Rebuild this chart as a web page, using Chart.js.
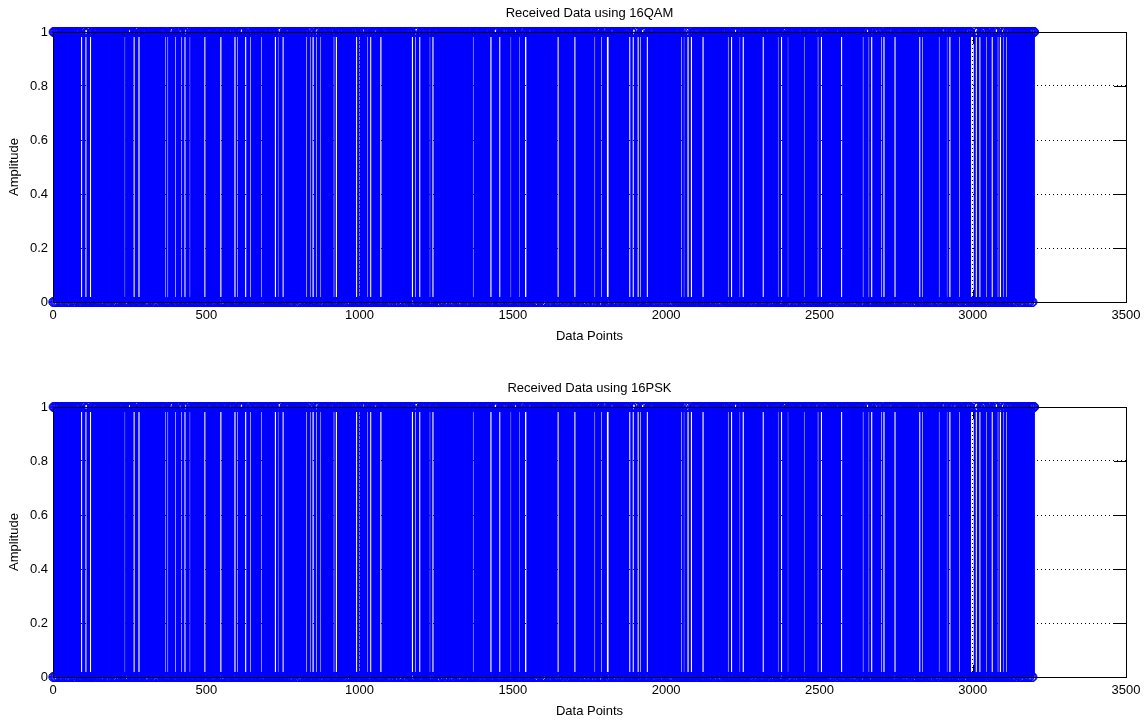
<!DOCTYPE html>
<html>
<head>
<meta charset="utf-8">
<script src="https://cdn.jsdelivr.net/npm/chart.js@4.4.0/dist/chart.umd.min.js"></script>
<style>
  html, body { margin: 0; padding: 0; background: #fff; overflow: hidden; }
  canvas { position: absolute; left: 0; }
  #qam { top: 0; }
  #psk { top: 375px; }
</style>
</head>
<body>
<canvas id="qam" width="1147" height="360"></canvas>
<canvas id="psk" width="1147" height="360"></canvas>
<script>
const N = 3200;
const xTicks = [0, 500, 1000, 1500, 2000, 2500, 3000, 3500];
const yTicks = [0, 0.2, 0.4, 0.6, 0.8, 1];

// received bit stream, 4 bits per hex digit
const rxHex = `
5a6d9e7b5f 6a9d7e5b6f a5d9b7e6a5 9f6b5d7a9e 6d5b9a7f5e a6b9d5e7a6 9b5f6d7e9a 5b6e9d7a5f
e9a5d6b7f5 a9e6d5b7a9 d6f5a7e9b6 5d9a6e7b5a 9d6f7a5e9b 6a5d7e9f5b a7d9e5b6a9 f5e6a7d9b5
7a9d5e6b9f 5a6e7d9b5a d9f6a5e7b9 6d5a9e7f6b 5e9a7d6b5f a9d6e5b7a5 6f9e5d7a6b 9d5a7e6f9b
b6a9e5d7f6 a5b9d6e7a9 5f6d9a7e5b 6e9b5a7d6f 9a5e6d7b9f 5d6a9e7b5a f6e9d5a7b6 9e5d6a7f9b
d7a6e9b5f9 6a5e7d9b6a 5f9d6e7a5b 9e6a7d5f9b 6d9a5e7b6f a9e5d6b7a5 9f6d5e7a9b 5e6a9d7f5b
a6f9e5d7b9 5a6d9e7f5b 6e9a5d7b6f 9d5e6a7b9f 5a9e6d7b5f a6d9e5b7a9 6f5e9d7a6b 9a5d6e7f9b
e5a9d6f7b5 9a6e5d7b9f 6d5a9e7f6b a9d5e6b7a5 9e6f5d7a9b 5d6a9e7b5f 6a9e5d7f6b 9d5a6e7b9f
5b9a6e7d5f a6e9d5b7a9 6f5d9e7a6b 9a5e6d7f9b 5e9d6a7b5f a9e6d5b7a6 9d5f6e7a9b 6a5d9e7f6b
9e6a5d7b9f 5a9d6e7f5b 6d9e5a7b6f a5e9d6b7a9 9b6d5e7a9f 5d6e9a7b5f 6e5a9d7f6b 9a6d5e7b9f
d5a9e6b7f5 6a9d5e7b6f 9e5a6d7f9b 5d9a6e7b5f a6e5d9b7a9 6f9d5e7a6b 9a5e6d7f9b 5b6e9a7d5f
`;

// longer stretches of zeros: [first sample, length]
const zeroRuns = [
  [90,8],[104,8],[119,8],[232,6],[261,8],[277,8],[365,6],[372,6],[397,6],[417,6],
  [427,8],[444,6],[492,8],[544,8],[590,8],[599,6],[625,8],[642,6],[678,6],[722,8],
  [732,6],[747,8],[825,6],[838,6],[845,8],[857,6],[871,6],[914,6],[921,8],[987,8],
  [998,6],[1024,6],[1033,8],[1066,8],[1169,8],[1180,6],[1193,8],[1227,6],[1236,8],[1368,6],
  [1425,8],[1454,8],[1491,6],[1520,6],[1538,9],[1644,8],[1699,8],[1765,6],[1787,6],[1805,10],
  [1878,8],[1889,8],[1905,8],[1914,6],[1935,8],[2048,6],[2056,6],[2068,8],[2079,8],[2117,8],
  [2200,6],[2210,8],[2238,6],[2248,8],[2313,8],[2363,6],[2373,8],[2395,6],[2448,6],[2493,6],
  [2503,8],[2569,8],[2640,6],[2659,6],[2667,8],[2700,6],[2707,8],[2743,8],[2824,8],[2834,6],
  [2888,6],[2914,6],[2922,8],[2955,6],[2993,13],[3008,8],[3020,8],[3043,6],[3060,8],[3080,6],
  [3087,8],[3097,6],[3108,6]
];

function decodeBits(hex) {
  const bits = [];
  for (const ch of hex.replace(/\s+/g, '')) {
    const v = parseInt(ch, 16);
    for (let b = 3; b >= 0; b--) bits.push((v >> b) & 1);
  }
  while (bits.length < N) bits.push(1);
  return bits.slice(0, N);
}

const rxBits = decodeBits(rxHex);
// each run of zeros sits between two ones
zeroRuns.forEach(([first, len]) => {
  for (let k = 0; k < len; k++) rxBits[first - 1 + k] = 0;
  rxBits[first - 2] = 1;
  rxBits[first - 1 + len] = 1;
});

const qamData = rxBits.slice();
const pskData = rxBits.slice();

Chart.defaults.font.family = "'Liberation Sans', Arial, sans-serif";
Chart.defaults.font.size = 13;
Chart.defaults.color = '#000';

// inward tick marks under the stems, box on top of them
const axesBox = {
  id: 'axesBox',
  beforeDatasetsDraw(chart) {
    const { ctx, chartArea: a, scales: { x, y } } = chart;
    const len = 12;
    ctx.save();
    ctx.strokeStyle = '#000';
    ctx.lineWidth = 1;
    ctx.beginPath();
    xTicks.forEach(v => {
      const px = Math.round(x.getPixelForValue(v)) + 0.5;
      ctx.moveTo(px, a.bottom); ctx.lineTo(px, a.bottom - len);
      ctx.moveTo(px, a.top); ctx.lineTo(px, a.top + len);
    });
    yTicks.forEach(v => {
      const py = Math.round(y.getPixelForValue(v)) + 0.5;
      ctx.moveTo(a.left, py); ctx.lineTo(a.left + len, py);
      ctx.moveTo(a.right, py); ctx.lineTo(a.right - len, py);
    });
    ctx.stroke();
    ctx.restore();
  },
  afterDatasetsDraw(chart) {
    const { ctx, chartArea: a } = chart;
    ctx.save();
    ctx.strokeStyle = '#000';
    ctx.lineWidth = 1;
    ctx.strokeRect(Math.round(a.left) + 0.5, Math.round(a.top) + 0.5,
      Math.round(a.right - a.left), Math.round(a.bottom - a.top));
    ctx.restore();
  }
};

function stemChart(id, title, values) {
  const pts = values.map((v, i) => ({ x: i + 1, y: v }));
  return new Chart(document.getElementById(id), {
    type: 'bar',
    data: {
      datasets: [
        {
          type: 'line',
          data: pts,
          showLine: false,
          pointRadius: 4.5,
          pointHoverRadius: 4.5,
          pointBorderWidth: 1,
          borderColor: '#0000ff',
          backgroundColor: 'rgba(0,0,0,0)',
          clip: false
        },
        {
          type: 'bar',
          data: pts,
          backgroundColor: '#0000ff',
          borderWidth: 0,
          barThickness: 1.6,
          inflateAmount: 0
        }
      ]
    },
    options: {
      responsive: false,
      animation: false,
      events: [],
      layout: { padding: { left: 0, right: 21, top: 0, bottom: 0 } },
      plugins: {
        legend: { display: false },
        tooltip: { enabled: false },
        title: {
          display: true,
          text: title,
          fullSize: false,
          color: '#000',
          font: { size: 13, weight: 'normal' },
          padding: { top: 6, bottom: 10.4 }
        }
      },
      scales: {
        x: {
          type: 'linear',
          min: 0,
          max: 3500,
          offset: false,
          afterBuildTicks: s => { s.ticks = xTicks.map(v => ({ value: v })); },
          afterFit: s => { s.height = 58; },
          grid: { color: '#000', drawTicks: false, offset: false },
          border: { display: false, dash: [1, 3] },
          ticks: { padding: 6, maxRotation: 0, autoSkip: false, callback: v => String(v) },
          title: { display: true, text: 'Data Points', padding: { top: 0, bottom: 16 } }
        },
        y: {
          min: 0,
          max: 1,
          afterBuildTicks: s => { s.ticks = yTicks.map(v => ({ value: v })); },
          afterFit: s => { s.width = 53; },
          grid: { color: '#000', drawTicks: false },
          border: { display: false, dash: [1, 3] },
          ticks: { padding: 5, callback: v => String(v) },
          title: { display: true, text: 'Amplitude', padding: { top: 7, bottom: 0 } }
        }
      }
    },
    plugins: [axesBox]
  });
}

stemChart('qam', 'Received Data using 16QAM', qamData);
stemChart('psk', 'Received Data using 16PSK', pskData);
</script>
</body>
</html>
